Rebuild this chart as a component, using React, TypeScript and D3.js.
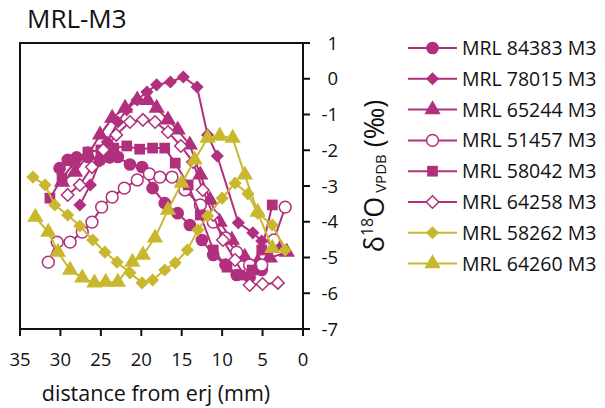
import React from 'react';
import {scaleLinear, line, symbol, symbolCircle, symbolDiamond2, symbolTriangle, symbolSquare} from 'd3';

// distance from erj (mm), d18O (‰)
const mrl84383 = [[30.1,-2.5],[29.1,-2.27],[28.0,-2.2],[26.6,-2.19],[25.1,-2.27],[23.9,-2.2],[22.9,-2.19],[21.4,-2.4],[19.9,-2.47],[18.6,-3.06],[17.1,-3.48],[15.5,-3.76],[14.0,-4.09],[12.5,-4.51],[11.1,-4.93],[9.6,-5.2],[8.2,-5.49],[6.6,-5.55],[5.1,-5.35],[3.2,-4.65]];
const mrl78015 = [[27.6,-3.53],[26.3,-2.97],[25.1,-2.3],[24.2,-1.77],[22.9,-1.21],[21.8,-0.87],[20.5,-0.59],[19.3,-0.37],[18.1,-0.17],[16.4,-0.09],[14.8,0.05],[13.1,-0.23],[11.8,-1.57],[10.6,-2.16],[8.0,-4.03],[6.2,-4.31],[5.1,-4.54]];
const mrl65244 = [[29.8,-2.89],[28.2,-2.61],[26.6,-2.13],[25.1,-1.57],[23.6,-1.1],[22.0,-0.82],[20.5,-0.59],[19.2,-0.6],[18.1,-0.82],[16.7,-1.15],[15.5,-1.43],[14.0,-1.85],[12.7,-2.69],[11.5,-3.39],[10.3,-4.01],[8.8,-4.51],[7.2,-4.99],[5.6,-5.13],[4.1,-5.01],[2.0,-4.85]];
const mrl51457 = [[31.5,-5.13],[30.4,-4.57],[28.8,-4.57],[27.3,-4.29],[26.1,-4.01],[24.9,-3.59],[23.6,-3.31],[22.1,-3.06],[20.5,-2.83],[19.0,-2.66],[17.7,-2.75],[16.2,-2.75],[14.6,-3.11],[12.7,-3.53],[11.1,-4.01],[9.6,-4.45],[8.2,-4.85],[6.6,-5.21],[5.1,-5.21],[3.6,-4.51],[2.2,-3.59]];
const mrl58042 = [[31.3,-3.34],[29.8,-2.78],[28.2,-2.33],[26.6,-2.05],[25.0,-1.99],[23.4,-1.94],[21.8,-1.88],[20.2,-1.97],[18.6,-1.94],[17.1,-1.94],[15.8,-2.36],[14.2,-2.97],[12.7,-3.81],[11.1,-4.79],[9.4,-5.27],[7.8,-5.49],[6.3,-5.35],[5.1,-4.79],[3.8,-3.53]];
const mrl64258 = [[29.1,-3.25],[27.6,-2.97],[26.1,-2.47],[24.7,-1.99],[23.1,-1.57],[21.4,-1.21],[19.8,-1.15],[18.3,-1.21],[16.7,-1.49],[15.1,-1.88],[13.6,-2.33],[12.4,-3.11],[11.1,-3.81],[9.9,-4.51],[8.4,-5.07],[6.6,-5.77],[5.0,-5.74],[3.1,-5.71]];
const mrl58262 = [[33.4,-2.75],[31.9,-2.97],[30.7,-3.53],[29.1,-3.81],[27.6,-4.12],[26.0,-4.51],[24.5,-4.85],[23.0,-5.13],[21.4,-5.43],[19.9,-5.71],[18.6,-5.63],[17.1,-5.35],[15.8,-5.15],[14.3,-4.79],[13.0,-4.23],[11.8,-3.84],[10.0,-3.34],[8.4,-2.92],[6.8,-3.22],[5.6,-3.76],[3.8,-4.09],[2.2,-4.79]];
const mrl64260 = [[33.1,-3.87],[31.5,-4.29],[30.3,-4.85],[28.8,-5.35],[27.3,-5.57],[25.8,-5.71],[24.4,-5.69],[22.9,-5.69],[21.1,-5.13],[19.8,-4.93],[18.3,-4.45],[16.7,-3.67],[15.0,-2.92],[13.4,-2.27],[11.8,-1.66],[10.3,-1.6],[8.7,-1.66],[7.2,-2.69],[5.6,-3.73],[3.8,-4.74]];

const seriesNames = ['MRL 84383 M3','MRL 78015 M3','MRL 65244 M3','MRL 51457 M3','MRL 58042 M3','MRL 64258 M3','MRL 58262 M3','MRL 64260 M3'];
const xTicks = [35,30,25,20,15,10,5,0];
const yTicks = [1,0,-1,-2,-3,-4,-5,-6,-7];

const MAG = '#b0307d';
const YEL = '#c9b82e';
const font = "'Open Sans', sans-serif";

const series = [
	{data:mrl84383, color:MAG, shape:symbolCircle, size:125, open:false},
	{data:mrl78015, color:MAG, shape:symbolDiamond2, size:110, open:false},
	{data:mrl65244, color:MAG, shape:symbolTriangle, size:115, open:false},
	{data:mrl51457, color:MAG, shape:symbolCircle, size:110, open:true},
	{data:mrl58042, color:MAG, shape:symbolSquare, size:115, open:false},
	{data:mrl64258, color:MAG, shape:symbolDiamond2, size:100, open:true},
	{data:mrl58262, color:YEL, shape:symbolDiamond2, size:110, open:false},
	{data:mrl64260, color:YEL, shape:symbolTriangle, size:115, open:false},
].map((s,i) => ({...s, name:seriesNames[i]}));

const plot = {l:20, t:43, r:303, b:329};
const x = scaleLinear().domain([35,0]).range([plot.l, plot.r]);
const y = scaleLinear().domain([1,-7]).range([plot.t, plot.b]);

const lineGen = line<number[]>().x(d => x(d[0])).y(d => y(d[1]));

const Marker = ({s, cx, cy}) => (
	<path
		d={symbol().type(s.shape).size(s.size)()}
		transform={`translate(${cx},${cy})`}
		fill={s.open ? '#fff' : s.color}
		stroke={s.color}
		strokeWidth={s.open ? 1.5 : 0}
	/>
);

export default function App(){
	const legendX = 408, legendY = 48, legendStep = 30.8;
	return (
		<svg width={605} height={408} style={{position:'absolute', left:0, top:0, background:'#fff'}}>
			<text x={27} y={28} fontFamily={font} fontSize={26} fill='#111'>MRL-M3</text>

			{/* frame */}
			<rect x={plot.l} y={plot.t} width={plot.r-plot.l} height={plot.b-plot.t} fill='none' stroke='#111' strokeWidth={2}/>

			{/* x axis */}
			{xTicks.map(t =>
				<g key={'x'+t}>
					<line x1={x(t)} x2={x(t)} y1={plot.b} y2={plot.b+7} stroke='#111' strokeWidth={2}/>
					<text x={x(t)} y={366} textAnchor='middle' fontFamily={font} fontSize={18.5} fill='#111'>{t}</text>
				</g>
			)}
			<text x={156} y={401} textAnchor='middle' fontFamily={font} fontSize={21.5} fill='#111'>distance from erj (mm)</text>

			{/* y axis */}
			{yTicks.map(t =>
				<g key={'y'+t}>
					<line x1={plot.r} x2={plot.r+7} y1={y(t)} y2={y(t)} stroke='#111' strokeWidth={2}/>
					<text x={338} y={y(t)} dy='0.36em' textAnchor='end' fontFamily={font} fontSize={18.5} fill='#111'>{t}</text>
				</g>
			)}
			<text transform={`translate(384,176) rotate(-90)`} textAnchor='middle' fontFamily={font} fontSize={27} fill='#111'>
				δ<tspan fontSize={16} dy={-11}>18</tspan><tspan dy={11}>O</tspan><tspan fontSize={15} dy={2}> VPDB</tspan><tspan dy={-2}> (‰)</tspan>
			</text>

			{/* series */}
			{series.map((s,i) =>
				<g key={s.name}>
					<path d={lineGen(s.data)} fill='none' stroke={s.color} strokeWidth={2}/>
					{s.data.map((d,j) => <Marker key={j} s={s} cx={x(d[0])} cy={y(d[1])}/>)}
				</g>
			)}

			{/* legend */}
			{series.map((s,i) => {
				const ly = legendY + i*legendStep;
				return (
					<g key={'l'+i}>
						<line x1={legendX} x2={legendX+49} y1={ly} y2={ly} stroke={s.color} strokeWidth={2}/>
						<Marker s={s} cx={legendX+24.5} cy={ly}/>
						<text x={462} y={ly} dy='0.36em' fontFamily={font} fontSize={19.5} fill='#111'>{s.name}</text>
					</g>
				);
			})}
		</svg>
	);
}
